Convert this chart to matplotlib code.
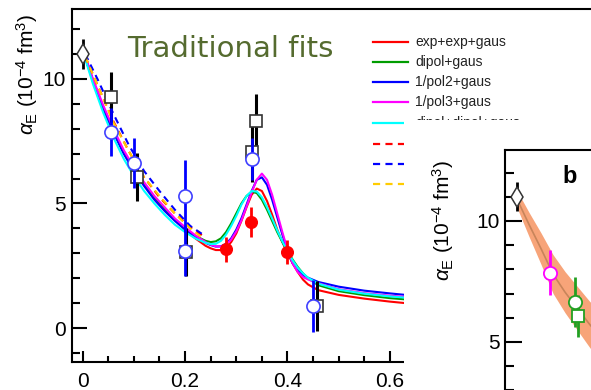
import matplotlib
matplotlib.use("Agg")
import matplotlib.pyplot as plt
from matplotlib.lines import Line2D
from matplotlib.patches import Rectangle
from matplotlib.ticker import MultipleLocator

plt.rcParams['font.family'] = ['Liberation Sans', 'DejaVu Sans']
plt.rcParams['mathtext.fontset'] = 'custom'
plt.rcParams['mathtext.rm'] = 'Liberation Sans'
plt.rcParams['mathtext.it'] = 'Liberation Sans:italic'
plt.rcParams['mathtext.bf'] = 'Liberation Sans:bold'

# ---- panel a: measured points ----
# black open squares
sq_x = [0.055, 0.106, 0.202, 0.330, 0.338, 0.458]
sq_y = [9.28, 6.06, 3.05, 7.05, 8.30, 0.88]
sq_err = [1.00, 0.95, 0.95, 1.20, 1.10, 1.00]
# blue open circles
ci_x = [0.055, 0.100, 0.200, 0.200, 0.330, 0.450]
ci_y = [7.87, 6.63, 5.30, 3.09, 6.79, 0.88]
ci_err = [0.97, 1.00, 1.45, 1.00, 0.85, 1.05]
# red filled circles
rd_x = [0.280, 0.329, 0.400]
rd_y = [3.17, 4.26, 3.05]
rd_err = [0.50, 0.60, 0.47]
# real photon point
dm_x = [0.0]
dm_y = [11.0]
dm_err = [0.6]

# ---- panel a: fit curves ----
fit_x = [0.005, 0.02, 0.04, 0.06, 0.08, 0.10, 0.12, 0.14, 0.16, 0.18, 0.20,
         0.22, 0.24, 0.25, 0.26, 0.27, 0.28, 0.29, 0.30, 0.31, 0.32, 0.33,
         0.34, 0.35, 0.36, 0.37, 0.38, 0.39, 0.40, 0.41, 0.42, 0.43, 0.44,
         0.46, 0.50, 0.55, 0.60, 0.63]
fit_red = [10.85, 9.95, 8.85, 7.9, 7.05, 6.35, 5.75, 5.25, 4.8, 4.35, 3.95,
           3.6, 3.3, 3.2, 3.13, 3.13, 3.22, 3.45, 3.8, 4.3, 4.85, 5.35,
           5.6, 5.5, 5.1, 4.55, 3.95, 3.45, 3.0, 2.6, 2.25, 1.95, 1.75,
           1.52, 1.33, 1.18, 1.06, 1.0]
fit_green = [10.85, 9.95, 8.85, 7.9, 7.05, 6.35, 5.75, 5.2, 4.75, 4.35, 4.0,
             3.7, 3.5, 3.45, 3.48, 3.6, 3.85, 4.2, 4.6, 5.0, 5.3, 5.47,
             5.42, 5.15, 4.75, 4.3, 3.85, 3.45, 3.08, 2.75, 2.45, 2.2, 2.0,
             1.72, 1.48, 1.32, 1.2, 1.15]
fit_blue = [10.85, 9.9, 8.8, 7.85, 7.0, 6.3, 5.7, 5.15, 4.7, 4.3, 3.95,
            3.65, 3.42, 3.33, 3.27, 3.28, 3.38, 3.6, 3.95, 4.4, 4.95, 5.5,
            5.95, 6.05, 5.75, 5.15, 4.45, 3.75, 3.1, 2.6, 2.3, 2.12, 2.02,
            1.85, 1.66, 1.5, 1.39, 1.33]
fit_magenta = [10.9, 10.0, 8.95, 8.0, 7.15, 6.45, 5.85, 5.3, 4.85, 4.4, 4.05,
               3.72, 3.45, 3.35, 3.28, 3.27, 3.35, 3.55, 3.88, 4.32, 4.88, 5.45,
               5.95, 6.2, 5.95, 5.35, 4.6, 3.85, 3.15, 2.6, 2.25, 2.05, 1.95,
               1.8, 1.56, 1.4, 1.3, 1.25]
fit_cyan = [10.8, 9.8, 8.65, 7.65, 6.8, 6.1, 5.5, 5.0, 4.55, 4.15, 3.85,
            3.6, 3.42, 3.37, 3.38, 3.5, 3.75, 4.1, 4.5, 4.95, 5.3, 5.5,
            5.48, 5.25, 4.85, 4.4, 3.92, 3.48, 3.08, 2.72, 2.42, 2.2, 2.02,
            1.78, 1.54, 1.38, 1.27, 1.22]
dash_x = [0.005, 0.03, 0.06, 0.09, 0.12, 0.15, 0.18, 0.21, 0.235]
dash_red = [10.9, 9.7, 8.3, 7.1, 6.05, 5.25, 4.6, 4.05, 3.7]
dash_blue = [11.0, 9.95, 8.6, 7.35, 6.3, 5.5, 4.75, 4.1, 3.75]
dash_yellow = [10.9, 9.7, 8.25, 7.1, 6.05, 5.3, 4.6, 4.0, 3.6]

# labels of the dashed entries are hidden under panel b in the original
fit_labels = ['exp+exp+gaus', 'dipol+gaus', '1/pol2+gaus', '1/pol3+gaus',
              'dipol+dipol+gaus', '', '', '']
fit_colors = ['#ff0000', '#009c00', '#0000ff', '#ff00ff', '#00ffff',
              '#ff0000', '#0000ff', '#ffcc00']
fit_dashed = [False, False, False, False, False, True, True, True]

# ---- panel b ----
band_x = [0.0, 0.02, 0.04, 0.06, 0.08, 0.10, 0.12, 0.14]
band_c = [10.9, 9.85, 8.85, 7.8, 7.05, 6.4, 5.75, 5.15]
band_hw = [0.35, 0.5, 0.65, 0.8, 0.85, 0.9, 0.95, 1.0]
b_pts_x = [0.055, 0.097, 0.102]
b_pts_y = [7.85, 6.65, 6.07]
b_pts_err = [0.93, 1.03, 0.86]
b_pts_col = ['#ff00ff', '#22a022', '#22a022']
b_pts_mk = ['o', 'o', 's']

W, H = 591, 390


def fx(px):
    return px / W


def fy(py):
    return 1 - py / H


fig = plt.figure(figsize=(W / 100, H / 100), dpi=100)

# panel a
ax = fig.add_axes([fx(72), fy(362), (600 - 72) / W, (362 - 9) / H])
ax.set_xlim(-0.0209, 1.0104)
ax.set_ylim(-1.365, 12.81)

curves = [fit_red, fit_green, fit_blue, fit_magenta, fit_cyan]
for ys, col in zip(curves, fit_colors[:5]):
    ax.plot(fit_x, ys, color=col, lw=1.5, zorder=2)
for ys, col in zip([dash_red, dash_blue, dash_yellow], fit_colors[5:]):
    ax.plot(dash_x, ys, color=col, lw=1.5, dashes=(3.2, 2.4), zorder=2)

ax.errorbar(dm_x, dm_y, yerr=dm_err, fmt='d', color='black', mfc='white',
            mec='#333333', ms=10.5, mew=1.1, elinewidth=2, capsize=0, zorder=4)
ax.errorbar(sq_x, sq_y, yerr=sq_err, fmt='s', color='black', mfc='white',
            mec='#333333', ms=8.5, mew=1.2, elinewidth=2.2, capsize=0, zorder=3)
ax.errorbar(ci_x, ci_y, yerr=ci_err, fmt='o', color='#0000ff', mfc='white',
            mec='#4040ff', ms=9.5, mew=1.2, elinewidth=2, capsize=0, zorder=4)
ax.errorbar(rd_x, rd_y, yerr=rd_err, fmt='o', color='#ff0000', mfc='#ff0000',
            mec='#ff0000', ms=8.4, elinewidth=2, capsize=0, zorder=4)

ax.spines['right'].set_visible(False)
for s in ['left', 'bottom', 'top']:
    ax.spines[s].set_linewidth(1.5)
ax.xaxis.set_minor_locator(MultipleLocator(0.05))
ax.yaxis.set_major_locator(MultipleLocator(5))
ax.yaxis.set_minor_locator(MultipleLocator(1))
ax.set_xticks([0, 0.2, 0.4, 0.6])
ax.set_xticklabels(['0', '0.2', '0.4', '0.6'])
ax.tick_params(which='both', direction='in', width=1.5, labelsize=15)
ax.tick_params(axis='y', which='major', length=11, pad=4.5)
ax.tick_params(axis='y', which='minor', length=6)
ax.tick_params(axis='x', which='major', length=8, pad=7)
ax.tick_params(axis='x', which='minor', length=4.5)

ylab = r'$\alpha_{\mathrm{E}}$ $(10^{-4}$ fm$^{3})$'
fig.text(fx(27), fy(74), ylab, rotation=90, ha='center', va='center',
         fontsize=15)
fig.text(fx(127), fy(49), 'Traditional fits', color='#556b2f',
         fontsize=21, family='DejaVu Sans', ha='left', va='center')

# legend drawn by hand
row_y = [42, 62, 82, 102, 123, 144, 164, 184]
for i, lab in enumerate(fit_labels):
    ln = Line2D([fx(373), fx(408)], [fy(row_y[i])] * 2, color=fit_colors[i],
                lw=1.6, transform=fig.transFigure, zorder=3)
    if fit_dashed[i]:
        ln.set_dashes((3.2, 2.4))
    fig.add_artist(ln)
    if lab:
        fig.text(fx(415), fy(row_y[i]), lab, fontsize=10, color='#222222',
                 ha='left', va='center', zorder=3)

# white sheet of the inset
fig.add_artist(Rectangle((fx(404), 0), 1 - fx(404), fy(120),
                         transform=fig.transFigure, facecolor='white',
                         edgecolor='none', zorder=5))

# panel b
bx = fig.add_axes([fx(505), fy(400), (600 - 505) / W, (400 - 150) / H])
bx.set_zorder(6)
bx.set_xlim(-0.02, 0.138)
bx.set_ylim(2.60, 12.93)
lo = [c - h for c, h in zip(band_c, band_hw)]
hi = [c + h for c, h in zip(band_c, band_hw)]
bx.fill_between(band_x, lo, hi, color='#f7a479', lw=0, zorder=1)
bx.plot(band_x, band_c, color='#c8845a', lw=1.2, zorder=2)
bx.errorbar(dm_x, dm_y, yerr=dm_err, fmt='d', color='black', mfc='white',
            mec='#333333', ms=10.5, mew=1.1, elinewidth=2, capsize=0, zorder=4)
for x, y, e, c, m in zip(b_pts_x, b_pts_y, b_pts_err, b_pts_col, b_pts_mk):
    bx.errorbar([x], [y], yerr=[e], fmt=m, color=c, mfc='white', mec=c,
                ms=9.5 if m == 'o' else 8.5, mew=1.3, elinewidth=2,
                capsize=0, zorder=4)
bx.spines['right'].set_visible(False)
bx.spines['bottom'].set_visible(False)
bx.spines['left'].set_linewidth(1.5)
bx.spines['top'].set_linewidth(1.5)
bx.set_xticks([])
bx.yaxis.set_major_locator(MultipleLocator(5))
bx.yaxis.set_minor_locator(MultipleLocator(1))
bx.tick_params(axis='y', which='both', direction='in', width=1.5,
               labelsize=15)
bx.tick_params(axis='y', which='major', length=12, pad=3.6)
bx.tick_params(axis='y', which='minor', length=6.5)
fig.text(fx(570), fy(177), 'b', fontsize=17, fontweight='bold',
         ha='center', va='center', zorder=7)
fig.text(fx(443), fy(220), ylab, rotation=90, ha='center', va='center',
         fontsize=15, zorder=7)

fig.savefig('out.png', dpi=100)
